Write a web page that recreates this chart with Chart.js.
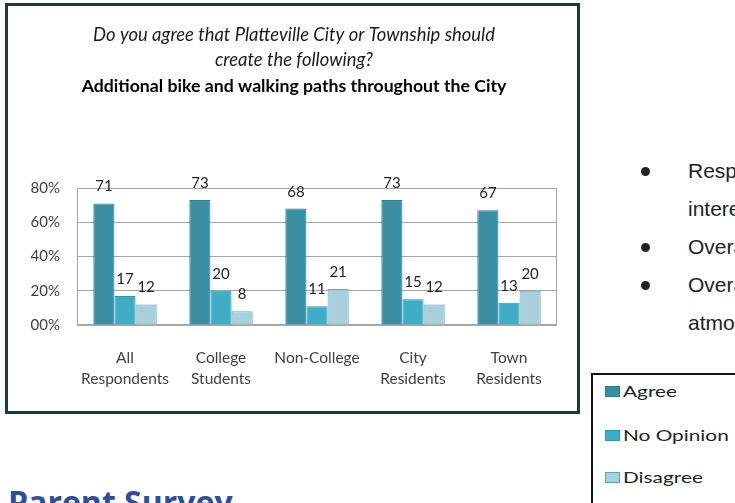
<!DOCTYPE html>
<html>
<head>
<meta charset="utf-8">
<script src="https://cdn.jsdelivr.net/npm/chart.js@4.4.0/dist/chart.umd.min.js"></script>
<style>
  body { margin: 0; width: 735px; height: 503px; overflow: hidden; background: #fff; position: relative; }
  #box { position: absolute; left: 5px; top: 3px; width: 575px; height: 411px; border: 3px solid #183c37; box-sizing: border-box; background: #fff; }
  #wrap { position: absolute; left: 0; top: 0; width: 569px; height: 405px; }
  .note { position: absolute; left: 688px; font: 21px/21px "Liberation Sans", Arial, sans-serif; color: #222; white-space: nowrap; }
  .dot { position: absolute; left: 641px; width: 9px; height: 9px; border-radius: 50%; background: #222; }
  #legend { position: absolute; left: 591px; top: 373px; width: 200px; height: 200px; border: 2px solid #111; box-sizing: border-box; }
  .key { position: absolute; left: 12px; width: 13px; height: 9px; border: 1px solid; }
  .keytext { position: absolute; left: 30px; font: 16px/16px Lato, sans-serif; color: #222; transform: scaleX(1.3); transform-origin: left top; white-space: nowrap; }
  #heading { position: absolute; left: 8px; top: 486px; font: bold 32px/32px "Open Sans", sans-serif; color: #2d4d9e; white-space: nowrap; }
</style>
</head>
<body>
<div id="box"><div id="wrap"><canvas id="bikePaths"></canvas></div></div>

<div class="dot" style="top:167px"></div>
<div class="note" style="top:160px">Respondents</div>
<div class="note" style="top:198px">interested</div>
<div class="dot" style="top:243px"></div>
<div class="note" style="top:236px">Overall</div>
<div class="dot" style="top:281px"></div>
<div class="note" style="top:274px">Overall</div>
<div class="note" style="top:312px">atmosphere</div>

<div id="legend"></div>
<div id="heading">Parent Survey</div>

<script>
const categories = [['All', 'Respondents'], ['College', 'Students'], 'Non-College', ['City', 'Residents'], ['Town', 'Residents']];
const seriesNames = ['Agree', 'No Opinion', 'Disagree'];
const agree = [71, 73, 68, 73, 67];
const noOpinion = [17, 20, 11, 15, 13];
const disagree = [12, 8, 21, 12, 20];
const yTicks = [0, 20, 40, 60, 80];

const fills = ['#3a8ea4', '#3fadc7', '#a7cfdc'];
const edges = ['#2e7f92', '#2e98b0', '#56a7bc'];

// value above every bar, taken from the bar element itself
const valueLabels = {
  id: 'valueLabels',
  afterDatasetsDraw(chart) {
    const ctx = chart.ctx;
    ctx.save();
    ctx.font = '15px Lato';
    ctx.fillStyle = '#222';
    ctx.textAlign = 'center';
    ctx.textBaseline = 'alphabetic';
    chart.data.datasets.forEach((ds, i) => {
      chart.getDatasetMeta(i).data.forEach((bar, j) => {
        ctx.fillText(ds.data[j], bar.x, bar.y - 12);
      });
    });
    ctx.restore();
  }
};

// grey frame round the plot area
const plotFrame = {
  id: 'plotFrame',
  beforeDatasetsDraw(chart) {
    const { ctx, chartArea: a } = chart;
    ctx.save();
    ctx.strokeStyle = '#a6a6a6';
    ctx.lineWidth = 1;
    ctx.strokeRect(Math.round(a.left) + 0.5, Math.round(a.top) + 0.5, Math.round(a.width) - 1, Math.round(a.height) - 1);
    ctx.restore();
  }
};

const datasets = [agree, noOpinion, disagree].map((values, i) => ({
  label: seriesNames[i],
  data: values,
  backgroundColor: fills[i],
  borderColor: edges[i],
  borderWidth: 1,
  categoryPercentage: 0.66,
  barPercentage: 1.0
}));

new Chart(document.getElementById('bikePaths'), {
  type: 'bar',
  data: { labels: categories, datasets: datasets },
  options: {
    responsive: true,
    maintainAspectRatio: false,
    animation: false,
    layout: { padding: { left: 3, right: 0, top: 0, bottom: 0 } },
    plugins: {
      legend: { display: false },
      tooltip: { enabled: false },
      title: {
        display: true,
        text: ['Do you agree that Platteville City or Township should', 'create the following?'],
        color: '#1a1a1a',
        font: { family: 'Lato', size: 18.4, style: 'italic', weight: 'normal', lineHeight: 25 / 18.4 },
        padding: { top: 17, bottom: 1 }
      },
      subtitle: {
        display: true,
        text: 'Additional bike and walking paths throughout the City',
        color: '#000',
        font: { family: 'Lato', size: 17.7, weight: 'bold', lineHeight: 25 / 17.7 },
        padding: { top: 0, bottom: 89 }
      }
    },
    scales: {
      x: {
        grid: { display: false, drawTicks: false },
        border: { display: false },
        ticks: { color: '#404040', font: { family: 'Lato', size: 15.5, lineHeight: 21 / 15.5 }, padding: 22, maxRotation: 0 }
      },
      y: {
        min: 0,
        max: 80,
        afterFit(scale) { scale.width = 66; },
        afterBuildTicks(scale) { scale.ticks = yTicks.map(v => ({ value: v })); },
        grid: { color: '#a6a6a6', drawTicks: false },
        border: { display: false },
        ticks: {
          color: '#404040',
          font: { family: 'Lato', size: 15 },
          padding: 17,
          callback: v => String(v).padStart(2, '0') + '%'
        }
      },
      // empty axis that only keeps a margin on the right of the plot
      yRight: {
        position: 'right',
        min: 0,
        max: 80,
        afterFit(scale) { scale.width = 20; },
        grid: { display: false, drawTicks: false },
        border: { display: false },
        ticks: { display: false }
      }
    }
  },
  plugins: [plotFrame, valueLabels]
});

// legend box built from the same series names and colours
const legend = document.getElementById('legend');
const keyTops = [11, 55, 97];
seriesNames.forEach((name, i) => {
  const key = document.createElement('div');
  key.className = 'key';
  key.style.top = keyTops[i] + 'px';
  key.style.background = fills[i];
  key.style.borderColor = edges[i];
  legend.appendChild(key);
  const text = document.createElement('div');
  text.className = 'keytext';
  text.style.top = (keyTops[i] - 3) + 'px';
  text.textContent = name;
  legend.appendChild(text);
});
</script>
</body>
</html>
